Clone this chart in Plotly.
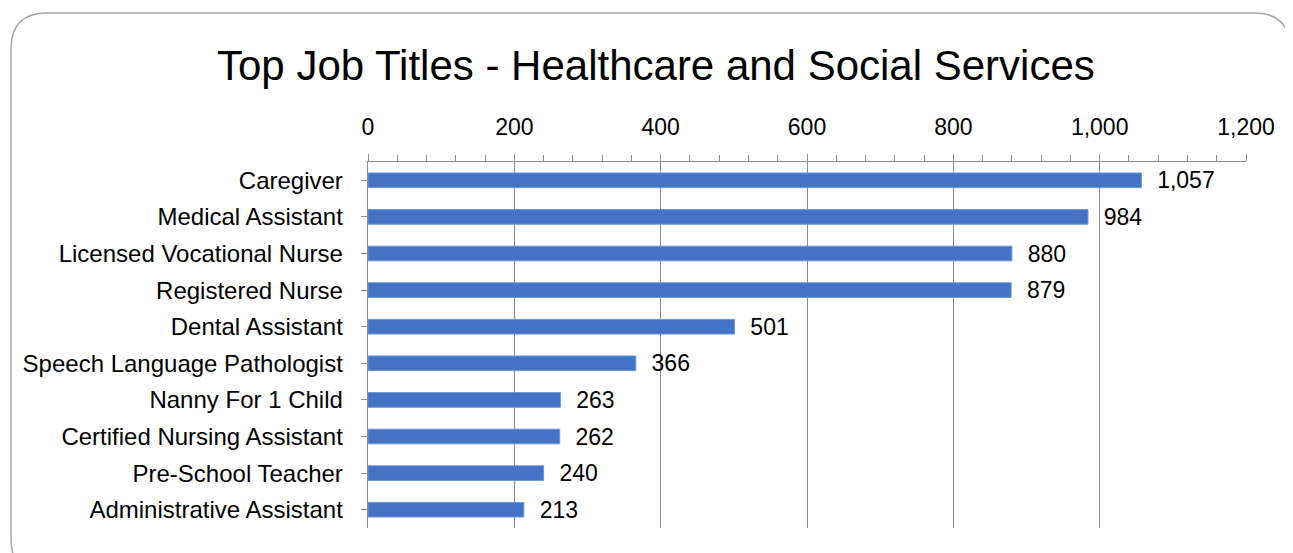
import plotly.graph_objects as go

categories = ["Caregiver", "Medical Assistant", "Licensed Vocational Nurse", "Registered Nurse",
              "Dental Assistant", "Speech Language Pathologist", "Nanny For 1 Child",
              "Certified Nursing Assistant", "Pre-School Teacher", "Administrative Assistant"]
values = [1057, 984, 880, 879, 501, 366, 263, 262, 240, 213]
x_ticks = [0, 200, 400, 600, 800, 1000, 1200]
x_tick_labels = ["0", "200", "400", "600", "800", "1,000", "1,200"]

OFF = 8  # page body margin
W, H = 1293 - OFF, 553 - OFF
# target plot area in screenshot pixels: x 368..1246, y 162..528
L, R, T, B = 368 - OFF, 1293 - 1246, 162 - OFF, 553 - 528
pw, ph = W - L - R, H - T - B

def px(x):  # screenshot pixel -> paper
    return (x - OFF - L) / pw

def py(y):
    return (H - B - (y - OFF)) / ph

FONT = "Liberation Sans"
GRID = "#8c8c8c"

fig = go.Figure(go.Bar(
    x=values, y=categories, orientation="h",
    marker=dict(color="#4472C4", line=dict(color="#6f95d6", width=1)),
    width=0.4,
    text=values, texttemplate="\u00a0\u00a0%{x:,}", textposition="outside",
    textfont=dict(size=23, color="#000000", family=FONT),
    constraintext="none",
    cliponaxis=False,
))

# rounded border
r = 36
x0, y0, x1, y1 = 11, 13, 1290, 575
path = (f"M {px(x0+r)},{py(y0)} L {px(x1-r)},{py(y0)} "
        f"Q {px(x1)},{py(y0)} {px(x1)},{py(y0+r)} "
        f"L {px(x1)},{py(y1-r)} Q {px(x1)},{py(y1)} {px(x1-r)},{py(y1)} "
        f"L {px(x0+r)},{py(y1)} Q {px(x0)},{py(y1)} {px(x0)},{py(y1-r)} "
        f"L {px(x0)},{py(y0+r)} Q {px(x0)},{py(y0)} {px(x0+r)},{py(y0)} Z")

fig.update_layout(
    width=W, height=H,
    margin=dict(l=L, r=R, t=T, b=B, autoexpand=False),
    paper_bgcolor="white", plot_bgcolor="white",
    showlegend=False,
    shapes=[dict(type="path", xref="paper", yref="paper", path=path,
                 line=dict(color="#a6a6a6", width=1.5), layer="below")],
    annotations=[
        dict(text="Top Job Titles - Healthcare and Social Services", xref="paper", yref="paper",
             x=px(656), y=py(66), xanchor="center", yanchor="middle", showarrow=False,
             font=dict(size=42, color="#000000", family=FONT)),
        dict(text="<b>TOP 10 JOB TITLES</b>", xref="paper", yref="paper",
             x=px(8), y=py(-9), xanchor="left", yanchor="middle", showarrow=False,
             font=dict(size=22, color="#5b8bd0", family=FONT)),
    ],
    xaxis=dict(
        side="top", range=[0, 1200], tickvals=x_ticks, ticktext=x_tick_labels,
        showgrid=True, gridcolor=GRID, gridwidth=1,
        showline=True, linecolor=GRID, linewidth=1,
        ticks="outside", ticklen=7, tickcolor=GRID,
        minor=dict(dtick=40, ticks="outside", ticklen=6, tickcolor=GRID, showgrid=False),
        tickfont=dict(size=23, color="#000000", family=FONT),
        ticklabelstandoff=10,
        zeroline=False, mirror=False,
    ),
    yaxis=dict(
        autorange="reversed", categoryorder="array", categoryarray=categories,
        showline=True, linecolor=GRID, linewidth=1,
        ticks="outside", ticklen=6, tickcolor=GRID,
        tickfont=dict(size=24, color="#000000", family=FONT),
        showgrid=False, ticksuffix="\u00a0\u00a0",
    ),
)

fig.write_html("out.html")
